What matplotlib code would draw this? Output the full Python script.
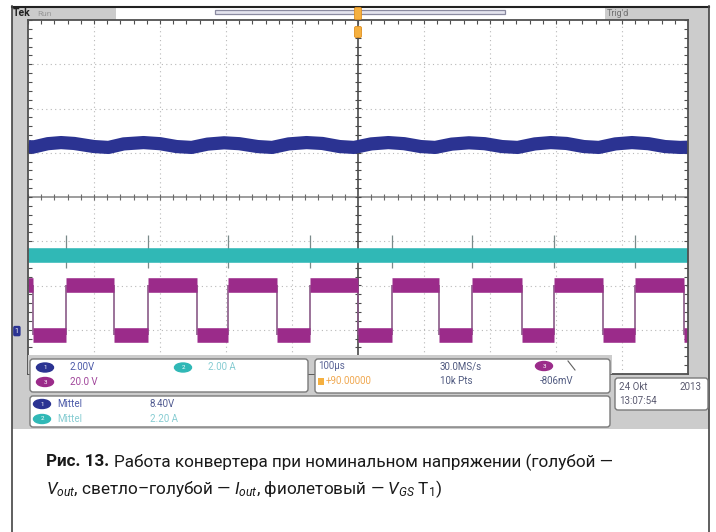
import numpy as np
import matplotlib.pyplot as plt
from matplotlib.patches import Rectangle, FancyBboxPatch, Ellipse

plt.rcParams['font.family'] = ['Roboto', 'DejaVu Sans']
plt.rcParams['mathtext.fontset'] = 'custom'
plt.rcParams['mathtext.rm'] = 'Roboto'
plt.rcParams['mathtext.it'] = 'Roboto:italic'
plt.rcParams['mathtext.bf'] = 'Roboto:bold'

W, H = 716, 532

# ── scope settings ────────────────────────────────────────────────────────────
T_TOTAL = 1000.0                      # 10 div x 100 µs
SCALE = {1: 2.0, 2: 2.0, 3: 20.0}     # V/div, A/div, V/div
GND = {1: -3.03, 2: -2.41, 3: -3.12}  # ground level, div from centre

# ch3: V_GS T1, switching edges (µs) and levels (V)
vgs_fall = [7.6, 130, 256, 377, 500, 623, 748, 871, 994]
vgs_rise = [57, 182, 303, 427, 551, 673, 797, 920]
vgs_high = 22.6
vgs_low = 0.0

# ch1: V_out ripple, turning points (µs, V)
vout_t = [0, 7, 30, 50, 70, 100, 122, 145, 175, 200, 225, 248, 272, 297,
          320, 348, 370, 395, 422, 446, 472, 494, 520, 546, 570, 595, 617,
          642, 668, 692, 718, 742, 768, 792, 816, 842, 865, 890, 915, 940,
          965, 988, 1000]
vout_v = [8.35, 8.31, 8.47, 8.52, 8.48, 8.34, 8.30, 8.46, 8.52, 8.47, 8.34,
          8.30, 8.45, 8.51, 8.47, 8.34, 8.30, 8.46, 8.52, 8.48, 8.34, 8.30,
          8.46, 8.52, 8.47, 8.34, 8.30, 8.45, 8.51, 8.47, 8.34, 8.30, 8.46,
          8.52, 8.48, 8.34, 8.30, 8.46, 8.52, 8.47, 8.34, 8.30, 8.31]

# ch2: I_out mean and spikes at turn-on (A)
iout_mean = 2.20
iout_spike_hi = 3.10
iout_spike_lo = 1.60

# readouts
ch_scale_txt = ["2.00V", "2.00 A", "20.0 V"]
meas_txt = ["8.40V", "2.20 A"]
horiz_txt = ["100µs", "+90.00000", "30.0MS/s", "10k Pts", "-806mV"]
date_txt = ["24 Okt", "2013", "13:07:54"]

C_BLUE = "#2b3392"
C_CYAN = "#30b8b6"
C_PURP = "#9b2b8a"
C_GRAY = "#cccccc"

fig = plt.figure(figsize=(W / 100, H / 100), dpi=100)

bg = fig.add_axes([0, 0, 1, 1], zorder=0)
bg.set_xlim(0, W); bg.set_ylim(H, 0); bg.axis("off")

# screen area in pixels
GL, GR, GT, GB = 28, 688, 20, 374
sc = fig.add_axes([GL / W, 1 - GB / H, (GR - GL) / W, (GB - GT) / H], zorder=1)
sc.set_xlim(0, T_TOTAL); sc.set_ylim(-4, 4)
sc.set_xticks([]); sc.set_yticks([])
for sp in sc.spines.values():
    sp.set_edgecolor("#505050"); sp.set_linewidth(1.3)

ov = fig.add_axes([0, 0, 1, 1], zorder=2)
ov.set_xlim(0, W); ov.set_ylim(H, 0); ov.axis("off")
ov.patch.set_alpha(0)

# ── scope frame (background) ─────────────────────────────────────────────────
bg.add_patch(Rectangle((12, 6), 697, 423, color=C_GRAY, lw=0))
bg.plot([12, 709], [6.5, 6.5], color="#222", lw=1.5)
bg.plot([12, 12], [6, H], color="#444", lw=1.2)
bg.plot([709, 709], [6, H], color="#444", lw=1.2)

# header
bg.add_patch(Rectangle((116, 7), 489, 13, color="white", lw=0))
bg.text(13, 13.5, "Tek", fontsize=7.5, fontweight="bold", va="center", color="#222")
bg.text(37, 13.5, "Run", fontsize=6, va="center", color="#999")
bg.text(607, 13.5, "Trig'd", fontsize=6.5, va="center", color="#707070")
bg.add_patch(Rectangle((215, 9.5), 290, 4.5, facecolor="#e4e4ee",
                       edgecolor="#8a8aa0", lw=0.9))

# ── graticule ────────────────────────────────────────────────────────────────
for k in range(1, 10):
    if k != 5:
        sc.axvline(k * 100, color="#b8b8b8", lw=0.8, ls=(0, (1, 3)))
for j in range(-3, 4):
    if j != 0:
        sc.axhline(j, color="#b8b8b8", lw=0.8, ls=(0, (1, 3)))
sc.axhline(0, color="#8c8c8c", lw=1.2)
sc.axvline(500, color="#4a4a4a", lw=1.2)

minor_x = np.arange(0, T_TOTAL + 1, 20)
minor_y = np.arange(-4, 4.01, 0.2)
tx = 3 * 100 / 66      # 3 px in µs
ty = 3 / 44.25         # 3 px in div
sc.vlines(minor_x, -ty, ty, color="#6a6a6a", lw=0.8)
sc.hlines(minor_y, 500 - tx, 500 + tx, color="#4a4a4a", lw=0.8)
sc.vlines(minor_x, 4 - 1.3 * ty, 4, color="#505050", lw=0.8)
sc.hlines(minor_y, 0, 1.3 * tx, color="#505050", lw=0.8)
sc.hlines(minor_y, T_TOTAL - 1.3 * tx, T_TOTAL, color="#505050", lw=0.8)

# ── traces ───────────────────────────────────────────────────────────────────
def to_div(ch, val):
    return GND[ch] + np.asarray(val) / SCALE[ch]

# ch1 V_out
sc.plot(vout_t, to_div(1, vout_v), color=C_BLUE, lw=9.5,
        solid_capstyle="butt", solid_joinstyle="round")

# ch2 I_out
sc.vlines(vgs_rise, to_div(2, iout_spike_lo), to_div(2, iout_spike_hi),
          color="#7a8a8a", lw=0.9)
sc.hlines(to_div(2, iout_mean), 0, T_TOTAL, color=C_CYAN, lw=10.5)

# ch3 V_GS
edges = sorted([(t, "f") for t in vgs_fall] + [(t, "r") for t in vgs_rise])
hi_y, lo_y = to_div(3, vgs_high), to_div(3, vgs_low)
sc.vlines([t for t, _ in edges], lo_y, hi_y, color="#8a5a88", lw=1.2)
prev = 0.0
for t, kind in edges:
    sc.hlines(hi_y if kind == "f" else lo_y, prev, t, color=C_PURP, lw=10.5)
    prev = t
sc.hlines(lo_y, prev, T_TOTAL, color=C_PURP, lw=10.5)

# ground marker ch1
sc.annotate("1", xy=(0, GND[1]), xytext=(-8, 0), textcoords="offset points",
            ha="center", va="center", fontsize=5, color="white",
            annotation_clip=False,
            bbox=dict(boxstyle="round,pad=0.25", fc=C_BLUE, ec="none"))

# trigger markers
for y0, y1 in [(8, 19), (27, 37)]:
    ov.add_patch(FancyBboxPatch((355, y0), 6, y1 - y0,
                                boxstyle="round,pad=0.5,rounding_size=1.5",
                                fc="#f5b040", ec="#e09020", lw=0.6))

# ── readout panels ───────────────────────────────────────────────────────────
ov.add_patch(Rectangle((GL, 355), 612 - GL, 19, color=C_GRAY, lw=0))

def panel(x0, y0, x1, y1):
    ov.add_patch(FancyBboxPatch((x0, y0), x1 - x0, y1 - y0,
                                boxstyle="round,pad=0,rounding_size=3",
                                fc="white", ec="#7a7a7a", lw=1))

def badge(x, y, n, c):
    ov.add_patch(Ellipse((x, y), 17, 9, color=c))
    ov.text(x, y, n, fontsize=4.5, color="white", ha="center", va="center")

panel(30, 359, 308, 392)
panel(315, 359, 610, 393)
panel(615, 378, 708, 410)
panel(30, 396, 610, 427)

fs = 7
badge(45, 367.5, "1", C_BLUE)
ov.text(70, 367.5, ch_scale_txt[0], fontsize=fs, va="center", color="#4c5aa8")
badge(183, 367.5, "2", C_CYAN)
ov.text(208, 367.5, ch_scale_txt[1], fontsize=fs, va="center", color="#86ccd2")
badge(45, 382, "3", C_PURP)
ov.text(70, 382, ch_scale_txt[2], fontsize=fs, va="center", color="#a0449a")

ov.text(318, 366, horiz_txt[0], fontsize=fs, va="center", color="#5a6496")
ov.add_patch(Rectangle((318, 378), 6, 7, color="#f5b040", lw=0))
ov.text(326, 381.5, horiz_txt[1], fontsize=fs, va="center", color="#f0a850")
ov.text(440, 366, horiz_txt[2], fontsize=fs, va="center", color="#505a80")
ov.text(440, 381.5, horiz_txt[3], fontsize=fs, va="center", color="#505a80")
badge(544, 366, "3", C_PURP)
ov.plot([568, 575], [361, 370], color="#606060", lw=0.8)
ov.text(540, 381.5, horiz_txt[4], fontsize=fs, va="center", color="#505a80")

ov.text(619, 387, date_txt[0], fontsize=fs, va="center", color="#5a5a70")
ov.text(680, 387, date_txt[1], fontsize=fs, va="center", color="#5a5a70")
ov.text(619, 401, date_txt[2], fontsize=fs, va="center", color="#5a5a70")

badge(42, 404, "1", C_BLUE)
ov.text(57, 404, "Mittel", fontsize=fs, va="center", color="#4c5aa8")
ov.text(150, 404, meas_txt[0], fontsize=fs, va="center", color="#505a90")
badge(42, 419, "2", C_CYAN)
ov.text(57, 419, "Mittel", fontsize=fs, va="center", color="#86ccd2")
ov.text(150, 419, meas_txt[1], fontsize=fs, va="center", color="#86ccd2")

# ── caption ──────────────────────────────────────────────────────────────────
cap_fs = 12.3
t1 = ov.text(46, 462, "Рис. 13.", fontsize=cap_fs, fontweight="bold",
             va="center", color="#1a1a1a")
r = fig.canvas.get_renderer()
bb = t1.get_window_extent(r)
fig.text((bb.x1 + 5) / W, 1 - 462 / H,
         "Работа конвертера при номинальном напряжении (голубой —",
         fontsize=cap_fs, va="center", color="#1a1a1a")
ov.text(46, 489, r"$V_{out}$, светло–голубой — $I_{out}$, фиолетовый — $V_{GS}$ T$_1$)",
        fontsize=cap_fs, va="center", color="#1a1a1a")

fig.savefig("out.png", dpi=100)
